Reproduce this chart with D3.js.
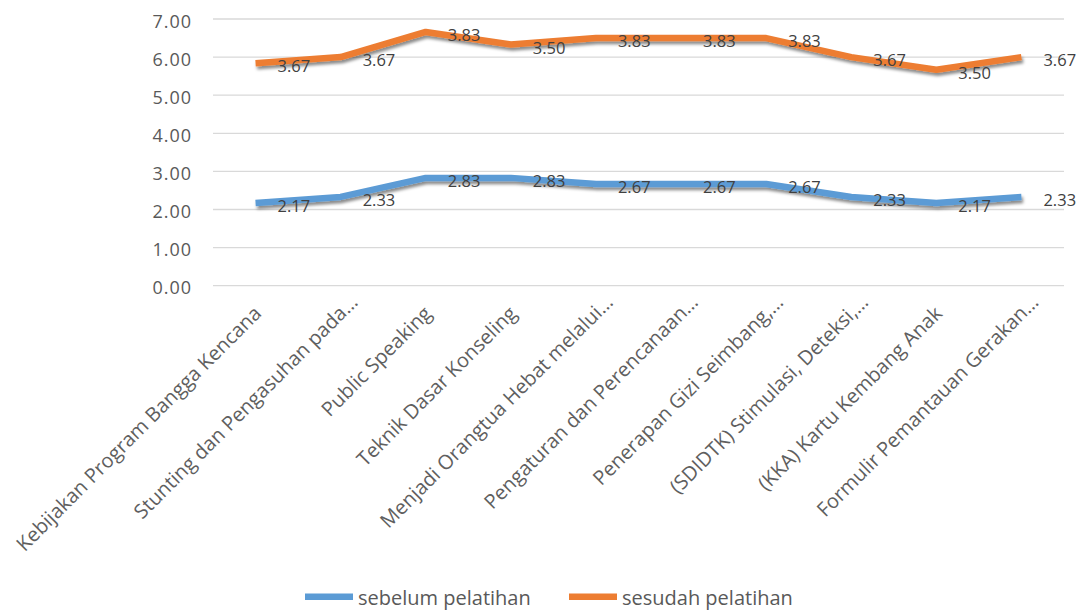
<!DOCTYPE html>
<html>
<head>
<meta charset="utf-8">
<script src="https://cdn.jsdelivr.net/npm/d3@7"></script>
<style>
  html, body { margin: 0; padding: 0; background: #fff; }
  svg { display: block; }
  text { font-family: "Open Sans", "Noto Sans", sans-serif; }
</style>
</head>
<body>
<svg id="chart" width="1090" height="610"></svg>
<script>
const categories = [
  "Kebijakan Program Bangga Kencana",
  "Stunting dan Pengasuhan pada…",
  "Public Speaking",
  "Teknik Dasar Konseling",
  "Menjadi Orangtua Hebat melalui…",
  "Pengaturan dan Perencanaan…",
  "Penerapan Gizi Seimbang,…",
  "(SDIDTK) Stimulasi, Deteksi,…",
  "(KKA) Kartu Kembang Anak",
  "Formulir Pemantauan Gerakan…"
];
const sebelum = [2.17, 2.33, 2.83, 2.83, 2.67, 2.67, 2.67, 2.33, 2.17, 2.33];
const sesudah = [3.67, 3.67, 3.83, 3.50, 3.83, 3.83, 3.83, 3.67, 3.50, 3.67];
const seriesNames = ["sebelum pelatihan", "sesudah pelatihan"];
const seriesColors = ["#5b9bd5", "#ed7d31"];
const yTicks = [0, 1, 2, 3, 4, 5, 6, 7];

const svg = d3.select("#chart");
const plot = { left: 213, right: 1064, top: 19, bottom: 285.7 };

const x = d3.scaleBand().domain(categories).range([plot.left, plot.right]);
const cx = c => x(c) + x.bandwidth() / 2;
const y = d3.scaleLinear().domain([0, 7]).range([plot.bottom, plot.top]);

// stacked data
const table = categories.map((c, i) => ({ cat: c, s0: sebelum[i], s1: sesudah[i] }));
const stacked = d3.stack().keys(["s0", "s1"])(table);

// shadow filter
const defs = svg.append("defs");
const f = defs.append("filter").attr("id", "shadow")
  .attr("x", "-10%").attr("y", "-50%").attr("width", "120%").attr("height", "200%");
f.append("feDropShadow").attr("dx", 1.5).attr("dy", 3).attr("stdDeviation", 1.8)
  .attr("flood-color", "#000").attr("flood-opacity", 0.45);

// gridlines
svg.append("g").selectAll("line").data(yTicks).join("line")
  .attr("x1", plot.left).attr("x2", plot.right)
  .attr("y1", d => y(d)).attr("y2", d => y(d))
  .attr("stroke", "#d9d9d9").attr("stroke-width", 1.3);

// y axis labels
const yAxis = d3.axisLeft(y).tickValues(yTicks).tickFormat(d3.format(".2f")).tickSize(0).tickPadding(0);
const gy = svg.append("g").attr("transform", `translate(${plot.left - 21},0)`).call(yAxis);
gy.select(".domain").remove();
gy.selectAll("text")
  .attr("fill", "#595959").attr("font-size", 18).attr("letter-spacing", 1)
  .attr("font-family", "'Open Sans', sans-serif")
  .attr("dy", "0.45em");

// x axis labels
svg.append("g").selectAll("text").data(categories).join("text")
  .attr("transform", d => `translate(${cx(d) + 7},${plot.bottom + 29}) rotate(-45)`)
  .attr("dx", d => d.endsWith("…") ? 16 : 0)
  .attr("text-anchor", "end")
  .attr("font-size", 20)
  .attr("fill", "#5f5f5f")
  .text(d => d);

// lines
const line = d3.line().x(d => cx(d.data.cat)).y(d => y(d[1]));
svg.append("g").selectAll("path").data(stacked).join("path")
  .attr("d", d => line(d))
  .attr("fill", "none")
  .attr("stroke", (d, i) => seriesColors[i])
  .attr("stroke-width", 6.5)
  .attr("stroke-linejoin", "round")
  .attr("filter", "url(#shadow)");

// data labels (series' own value, at stacked position)
const lab = svg.append("g");
stacked.forEach(s => {
  lab.selectAll(null).data(s).join("text")
    .attr("x", d => cx(d.data.cat) + 22)
    .attr("y", d => y(d[1]) + 9)
    .attr("font-size", 16.5)
    .attr("fill", "#404040")
    .text(d => d3.format(".2f")(d[1] - d[0]));
});

// legend
const leg = svg.append("g");
const legItems = [{ x: 305, name: seriesNames[0], color: seriesColors[0] },
                  { x: 569, name: seriesNames[1], color: seriesColors[1] }];
legItems.forEach(it => {
  leg.append("line").attr("x1", it.x).attr("x2", it.x + 48)
    .attr("y1", 596.7).attr("y2", 596.7)
    .attr("stroke", it.color).attr("stroke-width", 6.5);
  leg.append("text").attr("x", it.x + 53).attr("y", 605)
    .attr("font-size", 20).attr("fill", "#595959").text(it.name);
});
</script>
</body>
</html>
